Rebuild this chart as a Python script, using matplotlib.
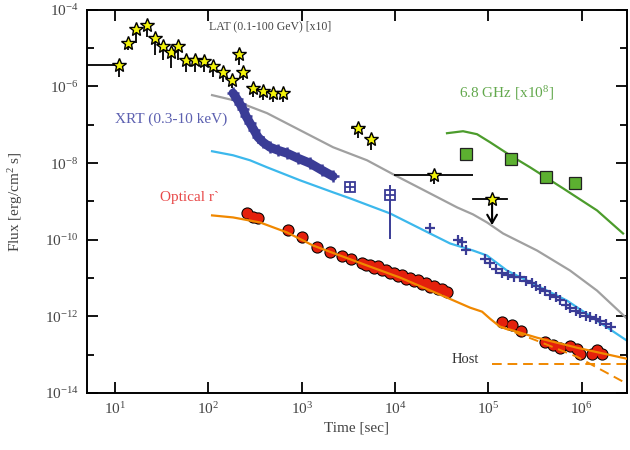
import numpy as np
import matplotlib
matplotlib.use("Agg")
import matplotlib.pyplot as plt
from matplotlib.ticker import FixedLocator, NullLocator, FixedFormatter, NullFormatter

plt.rcParams['font.family'] = ['Liberation Serif', 'DejaVu Serif']
plt.rcParams['mathtext.fontset'] = 'custom'
plt.rcParams['mathtext.rm'] = 'Liberation Serif'
plt.rcParams['mathtext.it'] = 'Liberation Serif:italic'

# LAT stars (x10), t [s], flux, lower end of error bar
lat_t = [11.0, 13.8, 16.8, 22.0, 26.8, 32.7, 39.8, 47.3, 57.7, 72.0,
         89.9, 112, 144, 180, 213, 236, 301, 386, 494, 631]
lat_f = [3.6e-6, 1.37e-5, 3.2e-5, 4.05e-5, 1.85e-5, 1.14e-5, 8.0e-6, 1.14e-5, 4.9e-6, 4.9e-6,
         4.6e-6, 3.4e-6, 2.4e-6, 1.47e-6, 7.0e-6, 2.4e-6, 9.1e-7, 7.6e-7, 6.7e-7, 6.7e-7]
lat_lo = [1.76e-6, 9.0e-6, 1.37e-5, 1.96e-5, 6.6e-6, 4.9e-6, 3.0e-6, 4.9e-6, 2.4e-6, 2.4e-6,
          2.4e-6, 1.76e-6, 1.30e-6, 9.1e-7, 3.6e-6, 1.47e-6, 5.3e-7, 4.4e-7, 3.9e-7, 3.9e-7]

# late LAT stars: t, t_lo, t_hi, flux, flux_lo
lat2_t = [4020, 5540, 26200]
lat2_tlo = [3380, 5540, 9770]
lat2_thi = [4790, 5540, 68700]
lat2_f = [8.1e-8, 4.2e-8, 4.8e-9]
lat2_lo = [4.5e-8, 2.16e-8, 2.8e-9]

# upper limit
ul_t, ul_tlo, ul_thi = 110000, 68700, 159000
ul_f, ul_end = 1.13e-9, 2.4e-10

# model curves (log10 t, log10 flux)
gray_lt = [2.040, 2.265, 2.629, 2.983, 3.337, 3.701, 4.001, 4.376, 4.666, 4.837,
           4.987, 5.159, 5.523, 5.877, 6.166, 6.488]
gray_lf = [-6.225, -6.356, -6.696, -7.141, -7.586, -7.927, -8.319, -8.791, -9.157, -9.340,
           -9.550, -9.838, -10.283, -10.806, -11.330, -12.063]

blue_lt = [2.040, 2.265, 2.447, 2.629, 2.983, 3.337, 3.519, 3.947, 4.376, 4.591,
           4.837, 4.987, 5.201, 5.480, 5.845, 6.166, 6.488]
blue_lf = [-7.691, -7.796, -7.927, -8.110, -8.450, -8.764, -8.921, -9.314, -9.838, -10.099,
           -10.283, -10.414, -10.806, -11.147, -11.592, -12.115, -12.639]

orange_lt = [2.040, 2.265, 2.554, 2.844, 3.122, 3.412, 3.701, 4.055, 4.558, 4.805,
             4.934, 5.019, 5.126, 5.523, 5.952, 6.488]
orange_lf = [-9.366, -9.419, -9.550, -9.812, -10.152, -10.414, -10.675, -10.990, -11.513, -11.775,
             -11.880, -12.063, -12.272, -12.560, -12.822, -13.110]

afterglow_lt = [5.126, 5.523, 5.952, 6.488]
afterglow_lf = [-12.272, -12.639, -13.058, -13.764]

host_t = [1.1e5, 3.06e6]
host_f = [5.7e-14, 5.7e-14]

green_lt = [4.558, 4.730, 4.880, 5.019, 5.234, 5.448, 5.802, 6.166, 6.445]
green_lf = [-7.220, -7.168, -7.246, -7.455, -7.796, -8.110, -8.660, -9.236, -9.838]

# 6.8 GHz points (x1e8)
radio_lt = [4.762, 5.244, 5.620, 5.930]
radio_lf = [-7.770, -7.901, -8.372, -8.529]

# XRT early dense band
xrt1_lt = [2.265, 2.308, 2.340, 2.372, 2.404, 2.447, 2.490, 2.533, 2.586, 2.661,
           2.747, 2.844, 2.961, 3.090, 3.219, 3.337]
xrt1_lf = [-6.173, -6.330, -6.461, -6.592, -6.775, -6.958, -7.141, -7.325, -7.455, -7.586,
           -7.665, -7.743, -7.874, -8.005, -8.188, -8.346]

# XRT boxed points
xbox_t = [3300, 8850]
xbox_f = [2.32e-9, 1.44e-9]
xbox_lo = [2.32e-9, 1.07e-10]
xbox_hi = [2.32e-9, 2.6e-9]

# XRT late crosses
xrt2_lt = [4.376, 4.676, 4.719, 4.762, 4.966, 5.019, 5.084, 5.148, 5.212, 5.277,
           5.341, 5.405, 5.469, 5.512, 5.555, 5.609, 5.662, 5.727, 5.770, 5.834,
           5.877, 5.941, 5.984, 6.048, 6.091, 6.155, 6.198, 6.262, 6.316]
xrt2_lf = [-9.707, -10.021, -10.073, -10.257, -10.492, -10.597, -10.754, -10.859, -10.911, -10.963,
           -10.963, -11.068, -11.120, -11.199, -11.277, -11.330, -11.435, -11.487, -11.565, -11.696,
           -11.775, -11.853, -11.906, -11.984, -12.010, -12.063, -12.115, -12.194, -12.272]

# optical r' circles
opt_lt = [2.415, 2.479, 2.533, 2.854, 3.004, 3.165, 3.304, 3.433, 3.529,
          3.647, 3.690, 3.733, 3.776, 3.819, 3.862, 3.905, 3.947, 3.990, 4.033,
          4.076, 4.119, 4.162, 4.205, 4.248, 4.290, 4.333, 4.376, 4.419, 4.462,
          4.505, 4.558,
          5.148, 5.255, 5.352, 5.609, 5.694, 5.770, 5.877, 5.952, 5.984, 6.113,
          6.166, 6.220]
opt_lf = [-9.314, -9.419, -9.445, -9.759, -9.942, -10.204, -10.309, -10.414, -10.492,
          -10.597, -10.650, -10.660, -10.730, -10.700, -10.800, -10.780, -10.860, -10.860, -10.940,
          -10.910, -11.020, -10.990, -11.070, -11.060, -11.150, -11.140, -11.230, -11.220, -11.300,
          -11.300, -11.360,
          -12.141, -12.220, -12.377, -12.665, -12.743, -12.822, -12.770, -12.848, -12.979, -12.979,
          -12.874, -12.979]


def p(v):
    return 10 ** np.array(v)


fig = plt.figure(figsize=(6.3, 4.5), dpi=100)
ax = fig.add_axes([0.138, 0.127, 0.857, 0.851])
ax.set_xscale('log')
ax.set_yscale('log')
ax.set_xlim(5, 3.06e6)
ax.set_ylim(1e-14, 1e-4)

# models
ax.plot(p(gray_lt), p(gray_lf), color='#a0a0a0', lw=1.6, zorder=2)
ax.plot(p(blue_lt), p(blue_lf), color='#3cb8ec', lw=1.6, zorder=2)
ax.plot(p(orange_lt), p(orange_lf), color='#f08800', lw=1.6, zorder=4)
ax.plot(p(afterglow_lt), p(afterglow_lf), color='#f08800', lw=1.4, ls=(0, (5, 3)), zorder=4)
ax.plot(host_t, host_f, color='#f08800', lw=1.4, ls=(0, (5, 3)), zorder=4)
ax.plot(p(green_lt), p(green_lf), color='#4c9c2c', lw=1.6, zorder=2)

# XRT
xc = '#3a3c96'
ax.plot(p(xrt1_lt), p(xrt1_lf), color=xc, lw=6.5, solid_capstyle='round', zorder=3)
ax.plot(p(xrt1_lt), p(xrt1_lf), ls='none', marker='+', ms=9, mew=1.8, color=xc, zorder=3)
xb_t = np.array(xbox_t)
xb_f = np.array(xbox_f)
ax.errorbar(xb_t, xb_f, yerr=[xb_f - np.array(xbox_lo), np.array(xbox_hi) - xb_f],
            fmt='none', ecolor=xc, elinewidth=1.4, zorder=3)
ax.plot(xb_t, xb_f, ls='none', marker='s', ms=7, mfc='white', mec=xc, mew=1.3, zorder=4)
ax.plot(xb_t, xb_f, ls='none', marker='+', ms=7, mew=1.3, color=xc, zorder=5)
ax.plot(p(xrt2_lt), p(xrt2_lf), ls='none', marker='+', ms=7, mew=1.6, color=xc, zorder=3)

# optical: black layer underneath so overlapping circles merge into one outlined band
ax.plot(p(opt_lt), p(opt_lf), ls='none', marker='o', ms=8.8, mfc='black', mec='none', zorder=3)
ax.plot(p(opt_lt), p(opt_lf), ls='none', marker='o', ms=7.3, mfc='#e4200c', mec='none', zorder=3)

# radio
ax.plot(p(radio_lt), p(radio_lf), ls='none', marker='s', ms=8.5, mfc='#5cb030', mec='#222222',
        mew=0.9, zorder=3)

# LAT
lt = np.array(lat_t)
lf = np.array(lat_f)
ax.errorbar(lt, lf, yerr=[lf - np.array(lat_lo), lf * 0.08], fmt='none', ecolor='black',
            elinewidth=1.3, zorder=5)
ax.plot([5, lat_t[0]], [lat_f[0], lat_f[0]], color='black', lw=1.3, zorder=5)
l2t = np.array(lat2_t)
l2f = np.array(lat2_f)
ax.errorbar(l2t, l2f, xerr=[l2t - np.array(lat2_tlo), np.array(lat2_thi) - l2t],
            yerr=[l2f - np.array(lat2_lo), l2f * 0.08], fmt='none', ecolor='black',
            elinewidth=1.3, zorder=5)
ax.plot([ul_tlo, ul_thi], [ul_f, ul_f], color='black', lw=1.3, zorder=5)
ax.annotate('', xy=(ul_t, ul_end), xytext=(ul_t, ul_f),
            arrowprops=dict(arrowstyle='->,head_width=0.35,head_length=0.6', lw=1.5,
                            color='black', shrinkA=0, shrinkB=0), zorder=5)
ax.plot(np.concatenate([lt, l2t, [ul_t]]), np.concatenate([lf, l2f, [ul_f]]), ls='none',
        marker='*', ms=10, mfc='#f2f20a', mec='black', mew=1.0, zorder=6)

# labels
ax.text(0.227, 0.957, 'LAT (0.1-100 GeV) [x10]', transform=ax.transAxes, fontsize=8.5,
        color='#444444', va='center')
ax.text(0.052, 0.715, 'XRT (0.3-10 keV)', transform=ax.transAxes, fontsize=11,
        color='#5c60b0', va='center')
ax.text(0.135, 0.51, 'Optical r`', transform=ax.transAxes, fontsize=11,
        color='#e84848', va='center')
ax.text(0.69, 0.783, r'6.8 GHz [x10$^{8}$]', transform=ax.transAxes, fontsize=11,
        color='#62a84c', va='center')
ax.text(0.675, 0.087, 'Host', transform=ax.transAxes, fontsize=10.5,
        color='#333333', va='center')

ax.set_xlabel('Time [sec]', fontsize=11, color='#444444', labelpad=3)
ax.set_ylabel(r'Flux [erg/cm$^{2}$ s]', fontsize=11, color='#444444')
ax.yaxis.set_label_coords(-0.115, 0.5)

xt = [1e1, 1e2, 1e3, 1e4, 1e5, 1e6]
ax.xaxis.set_major_locator(FixedLocator(xt))
ax.xaxis.set_major_formatter(FixedFormatter([r'10$^{%d}$' % e for e in range(1, 7)]))
ax.xaxis.set_minor_locator(NullLocator())
yt = [10.0 ** e for e in range(-14, -3, 2)]
ax.yaxis.set_major_locator(FixedLocator(yt))
ax.yaxis.set_major_formatter(FixedFormatter([r'10$^{%d}$' % e for e in range(-14, -3, 2)]))
ax.yaxis.set_minor_locator(FixedLocator([10.0 ** e for e in range(-13, -4, 2)]))
ax.yaxis.set_minor_formatter(NullFormatter())

ax.tick_params(which='both', direction='in', top=True, right=True, colors='black',
               labelcolor='#444444', labelsize=11, width=1.3)
ax.tick_params(which='major', length=8, pad=6)
ax.tick_params(which='minor', length=5)
for s in ax.spines.values():
    s.set_linewidth(1.4)

fig.savefig('out.png', dpi=100)
